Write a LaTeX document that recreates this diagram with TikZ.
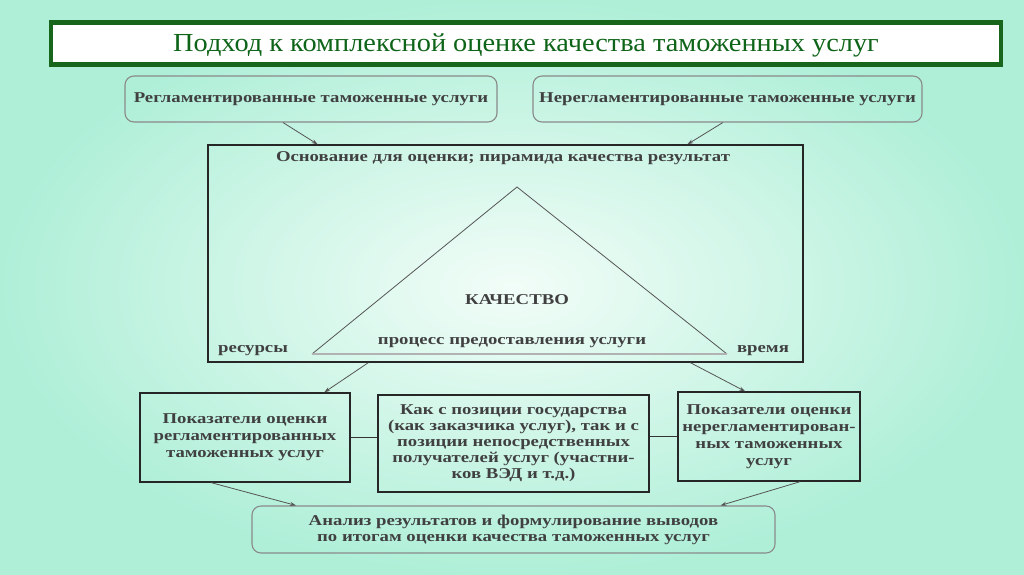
\documentclass[tikz,border=0pt]{standalone}
\usepackage{fontspec}
\setmainfont{Liberation Serif}
\newfontfamily\bodyf[FakeStretch=1.25]{Liberation Serif}
\newfontfamily\titlef[FakeStretch=1.09]{Liberation Serif}
\usetikzlibrary{calc,arrows.meta}
\definecolor{bgin}{HTML}{F2FDF8}
\definecolor{bgout}{HTML}{AFEFD8}
\definecolor{tgreen}{HTML}{0E6418}
\definecolor{tframe}{HTML}{17661C}
\definecolor{txt}{HTML}{404040}
\definecolor{lne}{HTML}{555555}
\definecolor{rbox}{HTML}{8A8A8A}
\tikzset{
  rbx/.style={draw=rbox, line width=1.1pt, rounded corners=9pt, inner sep=0pt, text=txt, font=\bodyf\fontsize{15}{16}\selectfont\bfseries},
  sbx/.style={draw=black!85, line width=1.3pt, inner sep=0pt, text=txt, align=center, font=\bodyf\fontsize{15}{17}\selectfont\bfseries},
  lbl/.style={text=txt, inner sep=0pt, font=\bodyf\fontsize{15}{16}\selectfont\bfseries},
  arr/.style={draw=lne, line width=0.8pt, -{Stealth[length=6pt,width=4pt]}},
  con/.style={draw=black!80, line width=1.2pt}
}
\begin{document}
\begin{tikzpicture}[x=1pt,y=-1pt]
\useasboundingbox (0,0) rectangle (1024,574);
\shade[inner color=bgin, outer color=bgout] (0,0) rectangle (1024,574);

% title
\node[draw=tframe, line width=4.5pt, fill=white, minimum width=950pt, minimum height=42pt, inner sep=0pt] (title) at (526,43.5) {};
\node[text=tgreen, font=\titlef\fontsize{26}{28}\selectfont, inner sep=0pt] (ttext) at (526,45) {Подход к комплексной оценке качества таможенных услуг};

% top boxes
\node[rbx, minimum width=372pt, minimum height=46pt] (tl) at (311,99) {Регламентированные таможенные услуги};
\node[rbx, minimum width=389pt, minimum height=46pt] (tr) at (727.5,99) {Нерегламентированные таможенные услуги};

% pyramid box
\node[draw=black!85, line width=1.3pt, minimum width=595pt, minimum height=217pt, inner sep=0pt] (pyr) at (505.5,253.5) {};
\node[lbl] (pyrt) at (503,158) {Основание для оценки; пирамида качества результат};
\coordinate (apex) at (517,187);
\coordinate (bl) at (312,354);
\coordinate (br) at (727,354);
\draw[draw=lne, line width=0.8pt] (bl) -- (apex) -- (br);
\draw[draw=black!30, line width=2pt] (bl) -- (br);
\node[lbl] (kach) at (517,300) {КАЧЕСТВО};
\node[lbl] (proc) at (512,343) {процесс предоставления услуги};
\node[lbl] (res) at (253,351) {ресурсы};
\node[lbl] (vrem) at (763,351) {время};

% middle row
\node[sbx, minimum width=210pt, minimum height=89pt] (ml) at (245,437.5) {Показатели оценки\\регламентированных\\таможенных услуг};
\node[sbx, minimum width=271pt, minimum height=97pt, font=\bodyf\fontsize{15}{16}\selectfont\bfseries] (mc) at (513.5,443.5) {Как с позиции государства\\(как заказчика услуг), так и с\\позиции непосредственных\\получателей услуг (участни-\\ков ВЭД и т.д.)};
\node[sbx, minimum width=182pt, minimum height=89pt] (mr) at (769,436.5) {Показатели оценки\\нерегламентирован-\\ных таможенных\\услуг};

% bottom box
\node[rbx, minimum width=523pt, minimum height=47pt, align=center] (bot) at (513.5,529.5) {Анализ результатов и формулирование выводов\\по итогам оценки качества таможенных услуг};

% connectors
\draw[arr] ($(tl.south west)!0.425!(tl.south east)$) -- ($(pyr.north west)!0.185!(pyr.north east)$);
\draw[arr] ($(tr.south west)!0.488!(tr.south east)$) -- ($(pyr.north west)!0.805!(pyr.north east)$);
\draw[arr] ($(pyr.south west)!0.27!(pyr.south east)$) -- ($(ml.north west)!0.875!(ml.north east)$);
\draw[arr] ($(pyr.south west)!0.81!(pyr.south east)$) -- ($(mr.north west)!0.37!(mr.north east)$);
\draw[arr] ($(ml.south west)!0.34!(ml.south east)$) -- ($(bot.north west)!0.085!(bot.north east)$);
\draw[arr] ($(mr.south west)!0.67!(mr.south east)$) -- ($(bot.north west)!0.895!(bot.north east)$);
\draw[con] (ml.east) -- (mc.west |- ml.east);
\draw[con] (mc.east |- mr.west) -- (mr.west);
\end{tikzpicture}
\end{document}
